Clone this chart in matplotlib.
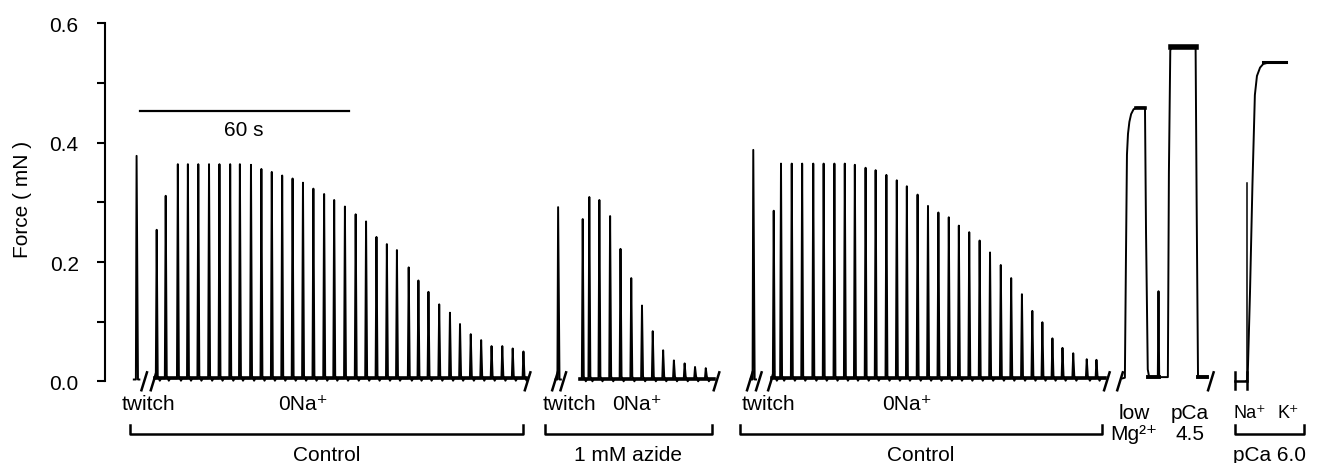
import matplotlib
matplotlib.use('Agg')
import matplotlib.pyplot as plt

plt.rcParams['font.family'] = ['Liberation Sans', 'DejaVu Sans']

# time in s, force in mN
# --- control, first run ---
ctl1_twitch = (9.1, 0.378)
ctl1_start, ctl1_end, ctl1_base = 14.4, 121.4, 0.005
ctl1_t = [14.9, 17.5, 21.0, 23.9, 26.9, 30.0, 33.0, 36.1, 38.9, 42.1, 45.1, 48.1,
          51.1, 54.1, 57.1, 60.1, 63.2, 66.1, 69.2, 72.3, 75.3, 78.3, 81.3, 84.2,
          87.6, 90.4, 93.3, 96.4, 99.5, 102.4, 105.5, 108.5, 111.5, 114.6, 117.6, 120.7]
ctl1_f = [0.254, 0.311, 0.364, 0.364, 0.364, 0.364, 0.364, 0.364, 0.364, 0.363,
          0.356, 0.351, 0.345, 0.340, 0.333, 0.323, 0.314, 0.304, 0.293, 0.280,
          0.268, 0.242, 0.230, 0.220, 0.191, 0.169, 0.150, 0.129, 0.115, 0.096,
          0.079, 0.069, 0.059, 0.059, 0.055, 0.050]

# --- 1 mM azide ---
azi_twitch = (130.7, 0.292)
azi_start, azi_end, azi_base = 137.0, 175.7, 0.004
azi_t = [137.8, 139.7, 142.6, 145.7, 148.7, 151.8, 154.9, 158.0, 161.0, 164.1, 167.2, 170.2, 173.3]
azi_f = [0.272, 0.309, 0.304, 0.277, 0.222, 0.173, 0.127, 0.084, 0.052, 0.035, 0.030, 0.024, 0.022]

# --- control, second run ---
ctl2_twitch = (187.0, 0.388)
ctl2_start, ctl2_end, ctl2_base = 192.4, 288.4, 0.005
ctl2_t = [192.9, 195.0, 198.1, 201.1, 204.3, 207.3, 210.4, 213.4, 216.3, 219.4, 222.3,
          225.4, 228.4, 231.3, 234.4, 237.4, 240.4, 243.4, 246.3, 249.3, 252.3, 255.3,
          258.4, 261.4, 264.5, 267.5, 270.4, 273.3, 276.2, 279.3, 283.2, 286.0]
ctl2_f = [0.286, 0.365, 0.365, 0.365, 0.365, 0.365, 0.365, 0.365, 0.363, 0.358, 0.354,
          0.346, 0.337, 0.327, 0.313, 0.294, 0.283, 0.275, 0.261, 0.250, 0.236, 0.216,
          0.195, 0.173, 0.146, 0.118, 0.099, 0.072, 0.056, 0.047, 0.037, 0.036]

# --- low Mg2+ then pCa 4.5 ---
maxf_t = [293.6, 294.2, 294.5, 294.8, 295.1, 295.5, 296.0, 296.7, 297.5, 300.0, 300.3,
          300.8, 301.2, 303.7, 303.9, 304.1, 306.6, 306.9, 307.3, 307.8, 314.6, 314.9,
          315.3, 317.9]
maxf_f = [0.005, 0.006, 0.20, 0.38, 0.415, 0.435, 0.448, 0.456, 0.459, 0.459, 0.25,
          0.02, 0.007, 0.007, 0.151, 0.007, 0.007, 0.35, 0.555, 0.561, 0.561, 0.3,
          0.007, 0.007]
lowmg_plateau = (297.3, 300.0, 0.459)
pca45_plateau = (307.6, 314.6, 0.561)

# --- pCa 6.0, Na+ -> K+ ---
pca6_hold = (325.9, 329.3, 0.001)
pca6_spike = (329.5, 0.332)
pca6_t = [329.3, 329.6, 330.3, 331.0, 331.7, 332.3, 333.2, 334.1, 336.0, 340.6]
pca6_f = [0.001, 0.002, 0.15, 0.33, 0.48, 0.512, 0.526, 0.532, 0.535, 0.535]

# axis breaks
breaks = [11.3, 14.0, 121.9, 129.8, 132.2, 176.4, 186.0, 188.6, 192.1, 289.0, 292.8, 319.0]

fig = plt.figure(figsize=(13.19, 4.64), dpi=100)
ax = fig.add_axes([0, 0, 1, 1])
ax.set_xlim(-30.3, 350.2)
ax.set_ylim(-0.137, 0.641)

lw = 1.4
k = 'black'


def spike_trace(t0, t1, base, pk_t, pk_f):
    t, f = [t0], [base]
    for tp, h in zip(pk_t, pk_f):
        t += [tp - 0.25, tp, tp + 0.3, tp + 0.9, tp + 1.3]
        f += [base, h, base + 0.004, base - 0.004, base]
    t.append(t1)
    f.append(base)
    return t, f


def twitch(tw, h):
    ax.plot([tw - 0.8, tw - 0.2, tw, tw + 0.4, tw + 0.8],
            [0.003, 0.003, h, 0.003, 0.003], color=k, lw=lw)


for (tw, h), (t0, t1, b, pt, pf) in [
        (ctl1_twitch, (ctl1_start, ctl1_end, ctl1_base, ctl1_t, ctl1_f)),
        (azi_twitch, (azi_start, azi_end, azi_base, azi_t, azi_f)),
        (ctl2_twitch, (ctl2_start, ctl2_end, ctl2_base, ctl2_t, ctl2_f))]:
    twitch(tw, h)
    t, f = spike_trace(t0, t1, b, pt, pf)
    ax.plot(t, f, color=k, lw=lw)
    ax.plot([t0, t1], [b, b], color=k, lw=2.6)

ax.plot(maxf_t, maxf_f, color=k, lw=lw)
for a, b, v in [lowmg_plateau, pca45_plateau]:
    ax.plot([a, b], [v, v], color=k, lw=4 if v > 0.5 else 2.6)
ax.plot([maxf_t[11], maxf_t[15]], [0.007, 0.007], color=k, lw=2.8)
ax.plot([maxf_t[-2], maxf_t[-1]], [0.007, 0.007], color=k, lw=2.8)

# pCa 6.0
a, b, v = pca6_hold
ax.plot([a, b], [v, v], color=k, lw=1.8)
ax.plot([a, a], [v - 0.014, v + 0.014], color=k, lw=1.8)
ax.plot([b, b], [v - 0.014, v + 0.014], color=k, lw=1.8)
ax.plot([pca6_spike[0]] * 2, [0, pca6_spike[1]], color=k, lw=1.1)
ax.plot(pca6_t, pca6_f, color=k, lw=lw)
ax.plot([pca6_t[-3], pca6_t[-1]], [0.535, 0.535], color=k, lw=2.2)

for x in breaks:
    ax.plot([x - 0.8, x + 0.8], [-0.015, 0.015], color=k, lw=1.8)

# 60 s scale bar
ax.plot([10.1, 70.3], [0.4537, 0.4537], color=k, lw=1.6)
ax.text(39.9, 0.423, '60 s', ha='center', va='center', fontsize=15)

# y axis
for s in ['top', 'right', 'bottom']:
    ax.spines[s].set_visible(False)
ax.spines['left'].set_position(('data', 0))
ax.spines['left'].set_bounds(0, 0.6)
ax.spines['left'].set_linewidth(1.5)
ax.set_xticks([])
ax.set_yticks([0, 0.2, 0.4, 0.6])
ax.set_yticklabels(['0.0', '0.2', '0.4', '0.6'])
ax.set_yticks([0.1, 0.3, 0.5], minor=True)
ax.tick_params(axis='y', which='both', length=6, width=1.5, pad=13, labelsize=15)
ax.set_ylabel('Force ( mN )', fontsize=15)
ax.yaxis.set_label_coords(0.0245, 0.571)

# labels under the traces
fs = 15
for x, s in [(12.4, 'twitch'), (57.1, '0Na⁺'), (133.9, 'twitch'), (153.4, '0Na⁺'),
             (191.3, 'twitch'), (231.3, '0Na⁺')]:
    ax.text(x, -0.038, s, ha='center', va='center', fontsize=fs)
for x, s1, s2 in [(296.8, 'low', 'Mg²⁺'), (312.9, 'pCa', '4.5')]:
    ax.text(x, -0.052, s1, ha='center', va='center', fontsize=fs)
    ax.text(x, -0.087, s2, ha='center', va='center', fontsize=fs)
ax.text(330.3, -0.052, 'Na⁺', ha='center', va='center', fontsize=13)
ax.text(341.2, -0.052, 'K⁺', ha='center', va='center', fontsize=13)

for a, b, s in [(7.2, 120.6, 'Control'), (126.9, 175.0, '1 mM azide'),
                (183.2, 287.5, 'Control'), (325.9, 345.8, 'pCa 6.0')]:
    ax.plot([a, a, b, b], [-0.0735, -0.088, -0.088, -0.0735], color=k, lw=1.8)
    ax.text((a + b) / 2, -0.123, s, ha='center', va='center', fontsize=fs)

fig.savefig('out.png', dpi=100)
